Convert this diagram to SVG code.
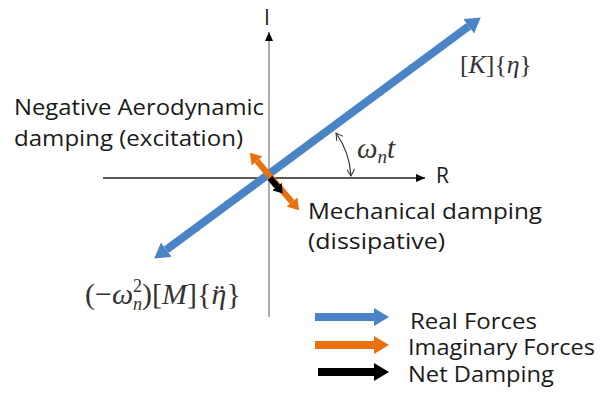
<svg xmlns="http://www.w3.org/2000/svg" width="600" height="393" viewBox="0 0 600 393">
<style>
.lbl{font-family:"Open Sans","Liberation Sans",sans-serif;font-size:21px;fill:#1a1a1a}
.math{font-family:"Liberation Serif","DejaVu Serif",serif;font-size:26px;fill:#333}
.it{font-style:italic}
.blue{stroke:#4a84c6;fill:none}
.orange{stroke:#e8700f;fill:none}
.black{stroke:#000;fill:none}
</style>
<defs>
<marker id="hb" markerUnits="userSpaceOnUse" markerWidth="15" markerHeight="18" refX="0" refY="9" orient="auto-start-reverse"><path d="M0,0 L15,9 L0,18 z" fill="#4a84c6"/></marker>
<marker id="ho" markerUnits="userSpaceOnUse" markerWidth="11" markerHeight="14" refX="0" refY="7" orient="auto-start-reverse"><path d="M0,0 L11,7 L0,14 z" fill="#e8700f"/></marker>
<marker id="hk" markerUnits="userSpaceOnUse" markerWidth="9" markerHeight="12" refX="0" refY="6" orient="auto-start-reverse"><path d="M0,0 L9,6 L0,12 z" fill="#000"/></marker>
<marker id="ax" markerUnits="userSpaceOnUse" markerWidth="9" markerHeight="8" refX="9" refY="4" orient="auto"><path d="M0,0 L9,4 L0,8 z" fill="#000"/></marker>
<marker id="arc" markerUnits="userSpaceOnUse" markerWidth="8" markerHeight="8" refX="7" refY="4" orient="auto-start-reverse"><path d="M0,0 L7,4 L0,8" fill="none" stroke="#333" stroke-width="1"/></marker>
</defs>
<g id="axes">
<line x1="269" y1="317" x2="269" y2="32" stroke="#808080" stroke-width="1.3" marker-end="url(#ax)"/>
<line x1="103" y1="178" x2="425" y2="178" stroke="#222" stroke-width="1.3" marker-end="url(#ax)"/>
<text class="lbl" x="264" y="25">I</text>
<text class="lbl" x="436" y="183">R</text>
</g>
<g id="connectors">
<line class="blue" x1="166.3" y1="249.7" x2="468.7" y2="26.3" stroke-width="8" marker-start="url(#hb)" marker-end="url(#hb)"/>
<line class="orange" x1="257" y1="161" x2="292" y2="202" stroke-width="6" marker-start="url(#ho)" marker-end="url(#ho)"/>
<line class="black" x1="270" y1="178" x2="277" y2="186.5" stroke-width="6" marker-end="url(#hk)"/>
<path d="M336,133 A82,82 0 0,1 351,176" fill="none" stroke="#333" stroke-width="1.2" marker-start="url(#arc)" marker-end="url(#arc)"/>
</g>
<g id="label-K">
<text class="math" x="460" y="73" textLength="72" lengthAdjust="spacingAndGlyphs">[<tspan class="it">K</tspan>]{<tspan class="it">η</tspan>}</text>
</g>
<g id="label-omega">
<text class="math it" x="357" y="158" style="font-size:29px">ω<tspan style="font-size:19px" dy="5">n</tspan><tspan dy="-5">t</tspan></text>
</g>
<g id="label-M">
<text class="math" x="85" y="304" style="font-size:30px">(−<tspan class="it">ω</tspan><tspan style="font-size:18px" dy="-12">2</tspan><tspan class="it" style="font-size:18px" dx="-9" dy="18">n</tspan><tspan dy="-6">)[</tspan><tspan class="it">M</tspan>]{<tspan class="it">η</tspan><tspan dx="-12" dy="1">¨</tspan><tspan dx="2" dy="-1">}</tspan></text>
</g>
<g id="label-neg">
<text class="lbl" x="14" y="115" textLength="250" lengthAdjust="spacingAndGlyphs">Negative Aerodynamic</text>
<text class="lbl" x="14" y="146" textLength="229" lengthAdjust="spacingAndGlyphs">damping (excitation)</text>
</g>
<g id="label-mech">
<text class="lbl" x="308" y="219" textLength="234" lengthAdjust="spacingAndGlyphs">Mechanical damping</text>
<text class="lbl" x="308" y="249" textLength="137" lengthAdjust="spacingAndGlyphs">(dissipative)</text>
</g>
<g id="legend">
<line class="blue" x1="315" y1="317" x2="374" y2="317" stroke-width="8" marker-end="url(#hb)"/>
<line class="orange" x1="315" y1="345" x2="374" y2="345" stroke-width="8"/>
<path d="M374,336 L389,345 L374,354 z" fill="#e8700f"/>
<line class="black" x1="318" y1="372" x2="374" y2="372" stroke-width="8"/>
<path d="M374,363 L389,372 L374,381 z" fill="#000"/>
<text class="lbl" x="410" y="329" textLength="127" lengthAdjust="spacingAndGlyphs">Real Forces</text>
<text class="lbl" x="408" y="355" textLength="187" lengthAdjust="spacingAndGlyphs">Imaginary Forces</text>
<text class="lbl" x="408" y="382" textLength="146" lengthAdjust="spacingAndGlyphs">Net Damping</text>
</g>
</svg>
